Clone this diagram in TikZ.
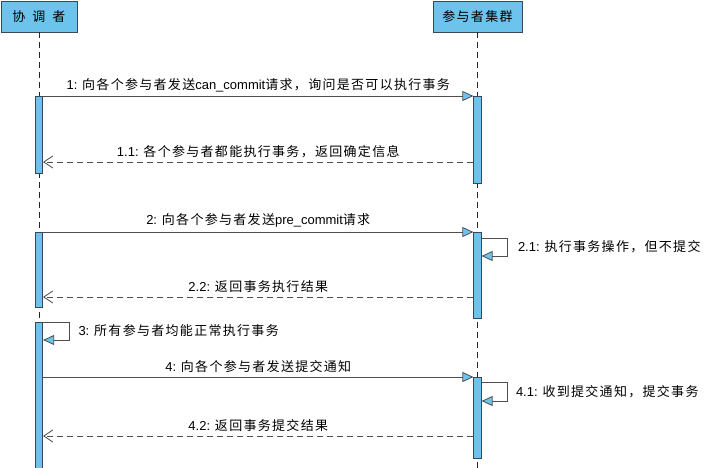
\documentclass[tikz,border=0pt]{standalone}
\usepackage{fontspec}
\setmainfont{Liberation Sans}
\newfontfamily\zhfont[LetterSpace=10]{Noto Sans CJK SC}
\newcommand\zh[1]{{\zhfont #1}}
\usetikzlibrary{arrows.meta,calc}
\definecolor{lifeblue}{RGB}{108,195,235}
\definecolor{edgegray}{RGB}{58,72,86}
\definecolor{linegray}{RGB}{78,78,78}
\tikzset{
 head/.style={draw=edgegray,fill=lifeblue,line width=0.8pt,minimum height=31pt,
              inner sep=0pt,font=\fontsize{13}{15}\selectfont},
 bar/.style={draw=edgegray,fill=lifeblue,line width=0.7pt,minimum width=7.5pt,
             inner sep=0pt,anchor=north},
 lifeline/.style={draw=black!85,dash pattern=on 6pt off 4pt,line width=0.7pt},
 call/.style={draw=linegray,line width=0.8pt,
              -{Triangle[length=11pt,width=10pt,fill=lifeblue]}},
 reply/.style={draw=linegray,line width=0.8pt,dash pattern=on 6pt off 4pt,
               -{Straight Barb[length=9pt,width=12pt]}},
 lbl/.style={font=\fontsize{13}{15}\selectfont,inner sep=1pt}
}
\begin{document}
\begin{tikzpicture}[x=1pt,y=-1pt]
\useasboundingbox (0,0) rectangle (704,468);
% participants
\node[head,minimum width=76pt] (coord) at (39,16.5) {\zh{协\hspace{7pt}调\hspace{7pt}者}};
\node[head,minimum width=89pt] (cluster) at (477.5,16.5) {\zh{参与者集群}};
% lifelines
\draw[lifeline] (coord.south) -- (coord.south |- 0,470);
\draw[lifeline] (cluster.south) -- (cluster.south |- 0,470);
% activation bars
\node[bar,minimum height=77pt] (la1) at (39,96) {};
\node[bar,minimum height=75pt] (la2) at (39,232) {};
\node[bar,minimum height=152pt] (la3) at (39,322) {};
\node[bar,minimum height=87pt] (ra1) at (477.5,96) {};
\node[bar,minimum height=86pt] (ra2) at (477.5,232) {};
\node[bar,minimum height=81pt] (ra3) at (477.5,377) {};
% message levels
\coordinate (y11) at (0,162);
\coordinate (y21) at (0,238);
\coordinate (y22) at (0,297);
\coordinate (y3) at (0,322);
\coordinate (y4) at (0,377);
\coordinate (y41) at (0,382);
\coordinate (y42) at (0,436);
% phase 1
\draw[call] (la1.north east) -- node[lbl,above=3pt]
  {1: \zh{向各个参与者发送}can\_commit\zh{请求，询问是否可以执行事务}} (ra1.north west);
\draw[reply] (y11 -| ra1.west) -- node[lbl,above=3pt]
  {1.1: \zh{各个参与者都能执行事务，返回确定信息}} (y11 -| la1.east);
% phase 2
\draw[call] (la2.north east) -- node[lbl,above=3pt]
  {2: \zh{向各个参与者发送}pre\_commit\zh{请求}} (ra2.north west);
\draw[call] (y21 -| ra2.east) -- ++(26,0) -- node[lbl,right=9pt]
  {2.1: \zh{执行事务操作，但不提交}} ++(0,18) -- ++(-26,0);
\draw[reply] (y22 -| ra2.west) -- node[lbl,above=3pt]
  {2.2: \zh{返回事务执行结果}} (y22 -| la2.east);
% phase 3
\draw[call] (y3 -| la3.east) -- ++(26,0) -- node[lbl,right=8pt]
  {3: \zh{所有参与者均能正常执行事务}} ++(0,18) -- ++(-26,0);
\draw[call] (y4 -| la3.east) -- node[lbl,above=3pt]
  {4: \zh{向各个参与者发送提交通知}} (ra3.north west);
\draw[call] (y41 -| ra3.east) -- ++(26,0) -- node[lbl,right=7pt]
  {4.1: \zh{收到提交通知，提交事务}} ++(0,19) -- ++(-26,0);
\draw[reply] (y42 -| ra3.west) -- node[lbl,above=3pt]
  {4.2: \zh{返回事务提交结果}} (y42 -| la3.east);
\end{tikzpicture}
\end{document}
